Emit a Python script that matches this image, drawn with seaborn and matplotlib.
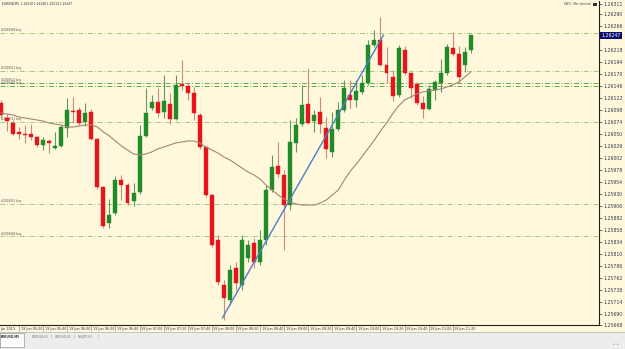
import numpy as np
import pandas as pd
import matplotlib
matplotlib.use("Agg")
import matplotlib.pyplot as plt
import seaborn as sns
from matplotlib.transforms import blended_transform_factory
from matplotlib.patches import Rectangle

# ---------------- data ----------------
header_text = "EURUSD,M5  1.26218 1.26248 1.26213 1.26247"
terminal_text = "SBFX - Mini terminal"

opens = [1.26112, 1.26082, 1.26072, 1.26054, 1.26050, 1.26050, 1.26044, 1.26028, 1.26036, 1.26022,
         1.26026, 1.26062, 1.26096, 1.26098, 1.26074, 1.26094, 1.26040, 1.25944, 1.25872, 1.25892,
         1.25958, 1.25948, 1.25916, 1.25934, 1.26046, 1.26102, 1.26114, 1.26094, 1.26110, 1.26080,
         1.26150, 1.26146, 1.26132, 1.26088, 1.26024, 1.25928, 1.25838, 1.25748, 1.25718, 1.25782,
         1.25748, 1.25802, 1.25832, 1.25794, 1.25838, 1.25938, 1.25986, 1.25968, 1.25908, 1.26032,
         1.26070, 1.26110, 1.26076, 1.26094, 1.26062, 1.26014, 1.26060, 1.26098, 1.26128, 1.26118,
         1.26134, 1.26152, 1.26228, 1.26238, 1.26188, 1.26164, 1.26128, 1.26218, 1.26172, 1.26150,
         1.26112, 1.26100, 1.26138, 1.26152, 1.26172, 1.26222, 1.26210, 1.26188, 1.26218]
highs = [1.26118, 1.26090, 1.26078, 1.26064, 1.26068, 1.26070, 1.26046, 1.26044, 1.26040, 1.26054,
         1.26068, 1.26122, 1.26124, 1.26104, 1.26112, 1.26100, 1.26042, 1.25946, 1.25920, 1.25966,
         1.25968, 1.25952, 1.25952, 1.26068, 1.26142, 1.26128, 1.26142, 1.26168, 1.26132, 1.26168,
         1.26198, 1.26152, 1.26144, 1.26092, 1.26026, 1.25930, 1.25848, 1.25758, 1.25788, 1.25794,
         1.25848, 1.25838, 1.25842, 1.25858, 1.25948, 1.26008, 1.26034, 1.25978, 1.26078, 1.26082,
         1.26148, 1.26182, 1.26098, 1.26124, 1.26084, 1.26094, 1.26114, 1.26158, 1.26158, 1.26158,
         1.26168, 1.26238, 1.26258, 1.26284, 1.26224, 1.26178, 1.26228, 1.26226, 1.26174, 1.26154,
         1.26126, 1.26148, 1.26158, 1.26200, 1.26230, 1.26254, 1.26226, 1.26224, 1.26248]
lows = [1.26082, 1.26056, 1.26048, 1.26040, 1.26032, 1.26038, 1.26024, 1.26018, 1.26012, 1.26020,
        1.26024, 1.26044, 1.26072, 1.26068, 1.26066, 1.26038, 1.25940, 1.25862, 1.25862, 1.25888,
        1.25918, 1.25908, 1.25906, 1.25930, 1.26044, 1.26098, 1.26084, 1.26082, 1.26070, 1.26078,
        1.26138, 1.26118, 1.26078, 1.26020, 1.25924, 1.25824, 1.25748, 1.25678, 1.25708, 1.25738,
        1.25738, 1.25794, 1.25782, 1.25788, 1.25828, 1.25934, 1.25964, 1.25818, 1.25898, 1.26014,
        1.26066, 1.26070, 1.26054, 1.26052, 1.26002, 1.26004, 1.26056, 1.26094, 1.26102, 1.26104,
        1.26130, 1.26148, 1.26224, 1.26186, 1.26152, 1.26116, 1.26124, 1.26168, 1.26122, 1.26108,
        1.26082, 1.26098, 1.26118, 1.26134, 1.26168, 1.26206, 1.26152, 1.26174, 1.26213]
closes = [1.26088, 1.26076, 1.26050, 1.26050, 1.26048, 1.26044, 1.26028, 1.26038, 1.26032, 1.26026,
          1.26064, 1.26098, 1.26094, 1.26072, 1.26092, 1.26040, 1.25944, 1.25866, 1.25888, 1.25958,
          1.25948, 1.25912, 1.25932, 1.26046, 1.26092, 1.26114, 1.26092, 1.26116, 1.26080, 1.26148,
          1.26146, 1.26132, 1.26092, 1.26024, 1.25928, 1.25828, 1.25754, 1.25722, 1.25778, 1.25752,
          1.25838, 1.25828, 1.25794, 1.25838, 1.25938, 1.25984, 1.25970, 1.25908, 1.26034, 1.26068,
          1.26108, 1.26072, 1.26088, 1.26070, 1.26020, 1.26060, 1.26098, 1.26142, 1.26118, 1.26136,
          1.26152, 1.26228, 1.26238, 1.26188, 1.26172, 1.26126, 1.26222, 1.26172, 1.26142, 1.26112,
          1.26100, 1.26140, 1.26154, 1.26172, 1.26224, 1.26210, 1.26164, 1.26214, 1.26247]
ma_values = [1.26092, 1.26090, 1.26088, 1.26084, 1.26082, 1.26080, 1.26078, 1.26076, 1.26072, 1.26070,
             1.26068, 1.26064, 1.26064, 1.26066, 1.26068, 1.26068, 1.26064, 1.26054, 1.26046, 1.26036,
             1.26026, 1.26018, 1.26010, 1.26008, 1.26010, 1.26014, 1.26020, 1.26024, 1.26028, 1.26032,
             1.26034, 1.26036, 1.26036, 1.26032, 1.26024, 1.26018, 1.26012, 1.26004, 1.25998, 1.25990,
             1.25982, 1.25974, 1.25968, 1.25960, 1.25948, 1.25938, 1.25928, 1.25920, 1.25914, 1.25910,
             1.25908, 1.25908, 1.25908, 1.25912, 1.25918, 1.25928, 1.25938, 1.25958, 1.25976, 1.25990,
             1.26006, 1.26022, 1.26038, 1.26056, 1.26072, 1.26090, 1.26106, 1.26118, 1.26124, 1.26130,
             1.26134, 1.26136, 1.26138, 1.26140, 1.26144, 1.26148, 1.26154, 1.26164, 1.26174]

trend_x = [36.75, 63.5]
trend_y = [1.25682, 1.26248]

order_prices = [1.26253, 1.26176, 1.26152, 1.26146, 1.26074, 1.25911, 1.25845]
order_labels = ["#2028948 buy", "#2028521 buy", "#2028522 buy", "#2028487 buy",
                "#2028511 buy", "#2028451 buy", "#2028446 buy"]

price_ticks = [1.26311, 1.26290, 1.26266, 1.26218, 1.26194, 1.26170, 1.26146, 1.26122, 1.26098,
               1.26074, 1.26050, 1.26026, 1.26002, 1.25978, 1.25954, 1.25930, 1.25906, 1.25882,
               1.25858, 1.25834, 1.25810, 1.25786, 1.25762, 1.25738, 1.25714, 1.25690, 1.25668]
last_price = 1.26247

time_labels = ["19 Jun 05:20", "19 Jun 05:40", "19 Jun 06:00", "19 Jun 06:20", "19 Jun 06:40",
               "19 Jun 07:00", "19 Jun 07:20", "19 Jun 07:40", "19 Jun 08:00", "19 Jun 08:20",
               "19 Jun 08:40", "19 Jun 09:00", "19 Jun 09:20", "19 Jun 09:40", "19 Jun 10:00",
               "19 Jun 10:20", "19 Jun 10:40", "19 Jun 11:00", "19 Jun 11:20"]
time_label_pos = [3, 7, 11, 15, 19, 23, 27, 31, 35, 39, 43, 47, 51, 55, 59, 63, 67, 71, 75]
first_label = "Jun 2013"
tabs = ["EURUSD,M5", "EURUSD,H1", "GBPUSD,H1", "USDJPY,H1"]

# ---------------- style ----------------
sns.set_style("white")
plt.rcParams['font.family'] = ['DejaVu Sans']
BG = "#FFF8DC"
UP = "#238a2a"
DOWN = "#e4161c"

W, H = 625, 349
fig = plt.figure(figsize=(W / 100, H / 100), dpi=100)
fig.patch.set_facecolor(BG)
ax_top_px, ax_bot_px, ax_right_px = 1, 325, 599
ax = fig.add_axes([0, 1 - ax_bot_px / H, ax_right_px / W, (ax_bot_px - ax_top_px) / H])
ax.set_facecolor(BG)

df = pd.DataFrame({"idx": np.arange(len(opens)), "open": opens, "high": highs,
                   "low": lows, "close": closes, "ma": ma_values})
df["up"] = df["close"] >= df["open"]
df["color"] = np.where(df["up"], UP, DOWN)
df["wick"] = np.where(df["up"], "#5f9a5a", "#c98a78")

ytr = blended_transform_factory(ax.transAxes, ax.transData)
# order lines
for i, (p, lab) in enumerate(zip(order_prices, order_labels)):
    col = "#5fa845" if i in (2, 3) else "#9ccc7c"
    ax.axhline(p, color=col, lw=0.7, ls=(0, (5, 2, 1, 2)), zorder=1)
    ax.text(0.002, p + 0.00001, lab, fontsize=2.0, color="#555555", ha="left", va="bottom",
            transform=ytr, zorder=2)

# wicks
ax.vlines(df["idx"], df["low"], df["high"], colors=df["wick"], lw=0.8, zorder=3)
# bodies
body_bottom = np.minimum(df["open"], df["close"])
body_h = np.maximum(np.abs(df["close"] - df["open"]), 0.000018)
ax.bar(df["idx"], body_h, bottom=body_bottom, width=0.66, color=df["color"],
       edgecolor=df["color"], linewidth=0.3, zorder=4)

# moving average + trend line
sns.lineplot(data=df, x="idx", y="ma", ax=ax, color="#a68470", lw=0.8, zorder=5, legend=False)
sns.lineplot(x=trend_x, y=trend_y, ax=ax, color="#4f7fc0", lw=1.0, zorder=6, legend=False)

ax.set_xlim(-0.17, 99.28)
ax.set_ylim(1.25668, 1.26316)
ax.set_xlabel("")
ax.set_ylabel("")

# right price axis
ax.yaxis.tick_right()
ax.set_yticks(price_ticks)
ax.set_yticklabels([f"{p:.5f}" for p in price_ticks])
ax.tick_params(axis="y", which="both", right=True, left=False, length=2, width=0.5,
               pad=1.0, labelsize=3.3, labelcolor="#333355", color="#333333", direction="out")
# time axis ticks
ax.set_xticks(time_label_pos)
ax.tick_params(axis="x", bottom=True, length=4.5, width=0.4, color="#777777",
               direction="out", labelbottom=False)
for s in ["top", "left"]:
    ax.spines[s].set_visible(False)
for s in ["right", "bottom"]:
    ax.spines[s].set_color("#222222")
    ax.spines[s].set_linewidth(0.8)

tr = blended_transform_factory(ax.transData, ax.transAxes)
for pos, lab in zip(time_label_pos, time_labels):
    ax.text(pos + 0.25, -0.005, lab, transform=tr, fontsize=2.4, color="#333344",
            ha="left", va="top", clip_on=False)
ax.text(-0.15, -0.005, first_label, transform=tr, fontsize=2.4, color="#333344",
        ha="left", va="top", clip_on=False)

# highlighted last price
ax.text(1.004, last_price, f"{last_price:.5f}", fontsize=3.3, color="white", ha="left",
        va="center", transform=ytr,
        bbox=dict(boxstyle="square,pad=0.2", fc="#0c0c70", ec="none"), clip_on=False, zorder=10)

# header texts
fig.text(2 / W, 1 - 4 / H, header_text, fontsize=2.1, color="#222244", ha="left", va="center")
fig.text(591 / W, 1 - 4 / H, terminal_text, fontsize=1.9, color="#444444", ha="right", va="center")
fig.patches.append(Rectangle((593 / W, 1 - 6 / H), 3.5 / W, 3.5 / H, transform=fig.transFigure,
                             fc="#333333", ec="none"))

# bottom tab strip
fig.patches.append(Rectangle((0, 0), 1, 17 / H, transform=fig.transFigure,
                             fc="#ededed", ec="#b0b0b0", lw=0.5, zorder=0))
fig.patches.append(Rectangle((0, 2 / H), 24 / W, 14 / H, transform=fig.transFigure,
                             fc="#fdfdfd", ec="#999999", lw=0.5, zorder=1))
tab_x = [1, 32, 55, 78]
for tx, t in zip(tab_x, tabs):
    fig.text(tx / W, 1 - 337 / H, t, fontsize=2.1, color="#333333" if tx == 1 else "#777777",
             ha="left", va="center", weight="bold" if tx == 1 else "normal")
for sx in [51, 74, 98]:
    fig.text(sx / W, 1 - 337 / H, "|", fontsize=2.6, color="#888888", ha="center", va="center")
fig.text(616 / W, 1 - 344 / H, "◂  ▸", fontsize=2.5, color="#888888", ha="center", va="center")

fig.savefig("out.png", dpi=100, facecolor=BG)
